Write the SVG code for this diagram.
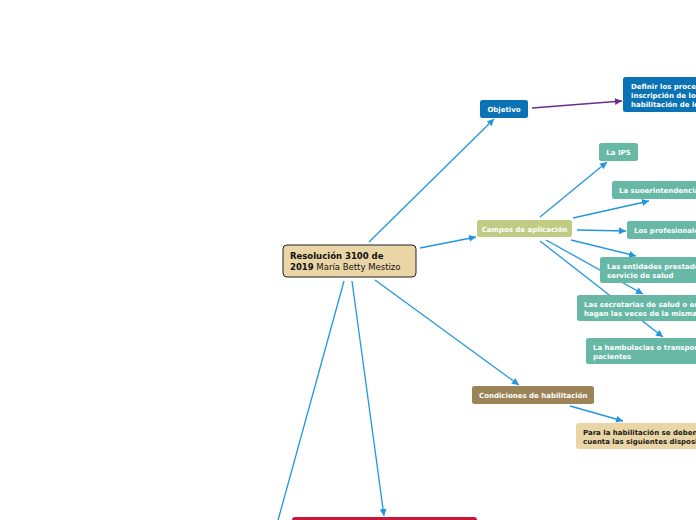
<svg xmlns="http://www.w3.org/2000/svg" width="696" height="520" viewBox="0 0 696 520">
<style>
.t{font-family:"DejaVu Sans",Verdana,sans-serif;font-size:7px;font-weight:bold;fill:#fff}
.d{fill:#1a1a1a}
.c{fill:none;stroke:#2196e0;stroke-width:1.3}
.p{fill:none;stroke:#6b2d8f;stroke-width:1.3}
</style>
<defs>
<marker id="ab" markerWidth="8" markerHeight="8" refX="7" refY="4" orient="auto" markerUnits="userSpaceOnUse"><path d="M0,0.5 L7,4 L0,7.5 Z" fill="#2196e0"/></marker>
<marker id="ap" markerWidth="8" markerHeight="8" refX="7" refY="4" orient="auto" markerUnits="userSpaceOnUse"><path d="M0,0.5 L7,4 L0,7.5 Z" fill="#6b2d8f"/></marker>
</defs>
<rect width="696" height="520" fill="#fff"/>
<g id="connectors">
<line class="c" x1="369" y1="242" x2="494" y2="119" marker-end="url(#ab)"/>
<line class="c" x1="420" y1="248" x2="476" y2="237" marker-end="url(#ab)"/>
<line class="c" x1="375" y1="280" x2="519" y2="385" marker-end="url(#ab)"/>
<line class="c" x1="352" y1="281" x2="384" y2="516" marker-end="url(#ab)"/>
<line class="c" x1="344" y1="281" x2="277" y2="524"/>
<line class="p" x1="532" y1="108" x2="622" y2="101" marker-end="url(#ap)"/>
<line class="c" x1="540" y1="217" x2="607" y2="162" marker-end="url(#ab)"/>
<line class="c" x1="573" y1="218" x2="649" y2="201" marker-end="url(#ab)"/>
<line class="c" x1="577" y1="230" x2="626" y2="231" marker-end="url(#ab)"/>
<line class="c" x1="571" y1="240" x2="636" y2="256" marker-end="url(#ab)"/>
<line class="c" x1="546" y1="240" x2="643" y2="294" marker-end="url(#ab)"/>
<line class="c" x1="540" y1="241" x2="663" y2="337" marker-end="url(#ab)"/>
<line class="c" x1="570" y1="406" x2="623" y2="421" marker-end="url(#ab)"/>
</g>
<g id="central">
<rect x="283" y="245" width="133" height="32" rx="4" fill="#ead5a6" stroke="#222" stroke-width="1"/>
<text x="290" y="259" style="font-family:'DejaVu Sans',Verdana,sans-serif;font-size:8.5px;font-weight:bold;fill:#111">Resolución 3100 de</text>
<text x="290" y="270" style="font-family:'DejaVu Sans',Verdana,sans-serif;font-size:8.5px;fill:#111"><tspan font-weight="bold">2019</tspan> María Betty Mestizo</text>
</g>
<g id="objetivo">
<rect x="480" y="100" width="48" height="18" rx="2.5" fill="#0b72b5"/>
<text class="t" x="504" y="112" text-anchor="middle">Objetivo</text>
</g>
<g id="definir">
<rect x="623" y="77" width="90" height="35" rx="2.5" fill="#0b72b5"/>
<text class="t" x="631" y="89">Definir los procedimientos</text>
<text class="t" x="631" y="98">inscripción de los prestadores</text>
<text class="t" x="631" y="107">habilitación de los servicios</text>
</g>
<g id="campos">
<rect x="477" y="220" width="95" height="17" rx="2.5" fill="#c0cb83"/>
<text class="t" x="524.5" y="231.5" text-anchor="middle">Campos de aplicación</text>
</g>
<g id="ips">
<rect x="599" y="143" width="39" height="18" rx="2.5" fill="#67b8a4"/>
<text class="t" x="618.5" y="155" text-anchor="middle">La IPS</text>
</g>
<g id="superintendencia">
<rect x="612" y="181" width="100" height="18" rx="2.5" fill="#67b8a4"/>
<text class="t" x="619" y="193">La suoerintendencia</text>
</g>
<g id="profesionales">
<rect x="627" y="221" width="90" height="18" rx="2.5" fill="#67b8a4"/>
<text class="t" x="634" y="233">Los profesionales</text>
</g>
<g id="entidades">
<rect x="600" y="257" width="110" height="26" rx="2.5" fill="#67b8a4"/>
<text class="t" x="607" y="269">Las entidades prestadoras del</text>
<text class="t" x="607" y="278">servicio de salud</text>
</g>
<g id="secretarias">
<rect x="577" y="295" width="130" height="26" rx="2.5" fill="#67b8a4"/>
<text class="t" x="584" y="307">Las secretarias de salud o entidades que</text>
<text class="t" x="584" y="316">hagan las veces de la misma</text>
</g>
<g id="ambulancias">
<rect x="586" y="338" width="120" height="26" rx="2.5" fill="#67b8a4"/>
<text class="t" x="593" y="350">La hambulacias o transporte de</text>
<text class="t" x="593" y="359">pacientes</text>
</g>
<g id="condiciones">
<rect x="472" y="386" width="122" height="18" rx="2.5" fill="#9c8459"/>
<text class="t" x="479" y="398">Condiciones de habilitación</text>
</g>
<g id="disposiciones">
<rect x="576" y="423" width="130" height="26" rx="2.5" fill="#ead5a6"/>
<text class="t d" x="583" y="435">Para la habilitación se deben tener en</text>
<text class="t d" x="583" y="444">cuenta las siguientes disposiciones</text>
</g>
<g id="bottom-node">
<rect x="292" y="517" width="185" height="20" rx="3" fill="#c8193c"/>
</g>
</svg>
